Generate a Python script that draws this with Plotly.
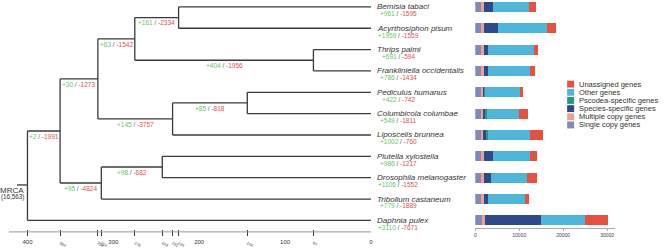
import plotly.graph_objects as go

# ---------------- data ----------------
species = ["Bemisia tabaci", "Acyrthosiphon pisum", "Thrips palmi", "Frankliniella occidentalis",
           "Pediculus humanus", "Columbicola columbae", "Liposcelis brunnea", "Plutella xylostella",
           "Drosophila melanogaster", "Tribolium castaneum", "Daphnia pulex"]
tip_gain = [961, 1959, 691, 786, 422, 549, 1002, 986, 1106, 779, 3110]
tip_loss = [-1595, -1559, -594, -1434, -742, -1811, -760, -1217, -1552, -1889, -7671]

node_names = ["root", "A", "B", "C", "D", "E", "F", "G", "H", "I"]
node_ages = [400, 362, 318, 314, 275, 231, 224, 67, 144, 243]
node_gain = [None, 2, 30, 95, 63, 145, 161, 404, 85, 98]
node_loss = [None, -1991, -1273, -4824, -1542, -3757, -2334, -1956, -818, -682]
node_children = {
    "root": ["A", "Daphnia pulex"],
    "A": ["B", "C"],
    "B": ["D", "E"],
    "C": ["I", "Tribolium castaneum"],
    "D": ["F", "G"],
    "E": ["H", "Liposcelis brunnea"],
    "F": ["Bemisia tabaci", "Acyrthosiphon pisum"],
    "G": ["Thrips palmi", "Frankliniella occidentalis"],
    "H": ["Pediculus humanus", "Columbicola columbae"],
    "I": ["Plutella xylostella", "Drosophila melanogaster"],
}
root_label = "MRCA"
root_count = "(16,563)"

major_ticks = [400, 300, 200, 100, 0]

series_names = ["Single copy genes", "Multiple copy genes", "Species-specific genes",
                "Pscodea-specific genes", "Other genes", "Unassigned genes"]
single_copy = [1590, 1590, 1590, 1590, 1590, 1590, 1590, 1590, 1590, 1590, 1590]
multiple_copy = [455, 455, 455, 455, 455, 455, 455, 455, 455, 455, 680]
species_specific = [2100, 3100, 1000, 1000, 100, 300, 350, 1970, 1600, 985, 12650]
psocodea_specific = [0, 0, 0, 0, 200, 450, 600, 0, 0, 0, 0]
other_genes = [8100, 11290, 10380, 9470, 7800, 7120, 9620, 8485, 8100, 8330, 10080]
unassigned = [1590, 1890, 910, 1060, 680, 2130, 2880, 1515, 2270, 990, 5300]
bar_ticks = [0, 10000, 20000, 30000]

# ---------------- style ----------------
W, H = 665, 248
FONT = "Liberation Sans, Arial, sans-serif"
GREEN = "#62c862"
RED = "#dc5050"
SEP = "#666666"
LINE = "#3a3a3a"
colors = ["#8289b6", "#f2a08e", "#2f4a8a", "#1f9b87", "#4db6da", "#e6503c"]

TIP0, TIPSTEP = 7.0, 21.7          # pixel y of first tip, spacing
PX400, PXPER = 26.5, 0.86          # pixel x of age 400, px per Myr
BAR0, BARPER = 475.0, 0.0044       # pixel x of 0 genes, px per gene


def pix2idx(py):
    return (py - TIP0) / TIPSTEP


def px2age(px):
    return 400 - (px - PX400) / PXPER


# ---------------- tree layout ----------------
age_of = dict(zip(node_names, node_ages))
for s in species:
    age_of[s] = 0
ypos = {s: i for i, s in enumerate(species)}


def place(n):
    if n in ypos:
        return ypos[n]
    ys = [place(c) for c in node_children[n]]
    ypos[n] = sum(ys) / len(ys)
    return ypos[n]


place("root")
parent_of = {c: p for p, cs in node_children.items() for c in cs}

lx, ly = [], []
for p, cs in node_children.items():
    a = age_of[p]
    cy = [ypos[c] for c in cs]
    lx += [a, a, None]
    ly += [min(cy), max(cy), None]
    for c in cs:
        lx += [a, age_of[c], None]
        ly += [ypos[c], ypos[c], None]
# root stem
stem_y = pix2idx(188)
lx += [age_of["root"], px2age(16), None]
ly += [stem_y, stem_y, None]

fig = go.Figure()
fig.add_trace(go.Scatter(x=lx, y=ly, mode="lines", line=dict(color=LINE, width=1.3),
                         hoverinfo="skip", xaxis="x", yaxis="y"))

# invisible helper trace to host the node-age tick axis
fig.add_trace(go.Scatter(x=node_ages, y=[ypos[n] for n in node_names], mode="markers",
                         marker=dict(opacity=0), hoverinfo="skip", xaxis="x3", yaxis="y"))

# bars
series_vals = [single_copy, multiple_copy, species_specific, psocodea_specific, other_genes, unassigned]
for name, vals, col in zip(series_names, series_vals, colors):
    fig.add_trace(go.Bar(y=list(range(len(species))), x=vals, orientation="h", name=name,
                         marker=dict(color=col, line=dict(width=0)), width=0.46,
                         xaxis="x2", yaxis="y", hoverinfo="x+name"))


def gl(g, l):
    return (f'<span style="color:{GREEN}">+{g}</span><span style="color:{SEP}"> / </span>'
            f'<span style="color:{RED}">{l}</span>')


ann = []
# tip labels
for i, s in enumerate(species):
    ann.append(dict(x=0, y=i, xref="x", yref="y", text=f"<i>{s}</i>", showarrow=False,
                    xanchor="left", yanchor="middle", xshift=4,
                    font=dict(family=FONT, size=8, color="#333333")))
    ann.append(dict(x=0, y=i + 7 / TIPSTEP, xref="x", yref="y", text=gl(tip_gain[i], tip_loss[i]),
                    showarrow=False, xanchor="center", yanchor="middle", xshift=27.5,
                    font=dict(family=FONT, size=6.5)))
# internal branch labels
for n, g, l in zip(node_names, node_gain, node_loss):
    if g is None:
        continue
    pa = age_of[parent_of[n]]
    ann.append(dict(x=(pa + age_of[n]) / 2, y=ypos[n] + 5.5 / TIPSTEP, xref="x", yref="y",
                    text=gl(g, l), showarrow=False, xanchor="center", yanchor="middle",
                    font=dict(family=FONT, size=6.5)))
# root label
ann.append(dict(x=age_of["root"], y=pix2idx(194), xref="x", yref="y", text=root_label,
                showarrow=False, xanchor="right", yanchor="middle", xshift=-1,
                font=dict(family=FONT, size=8, color="#333333")))
ann.append(dict(x=age_of["root"], y=pix2idx(200.5), xref="x", yref="y", text=root_count,
                showarrow=False, xanchor="right", yanchor="middle", xshift=-1,
                font=dict(family=FONT, size=6.3, color="#333333")))

# custom compact legend (top entry = last series)
shapes = []
leg_x0, leg_y0, leg_step = 567, 85.5, 8.3
for k, (name, col) in enumerate(zip(reversed(series_names), reversed(colors))):
    yc = leg_y0 + k * leg_step
    shapes.append(dict(type="rect", xref="paper", yref="paper",
                       x0=leg_x0 / W, x1=(leg_x0 + 7) / W,
                       y0=1 - (yc + 3.5) / H, y1=1 - (yc - 3.5) / H,
                       fillcolor=col, line=dict(width=0)))
    ann.append(dict(x=(leg_x0 + 10) / W, y=1 - yc / H, xref="paper", yref="paper", text=name,
                    showarrow=False, xanchor="left", yanchor="middle",
                    font=dict(family=FONT, size=7.5, color="#333333")))

# time-axis baseline
shapes.append(dict(type="line", xref="x", yref="paper", x0=px2age(8), x1=0,
                   y0=1 - 235.7 / H, y1=1 - 235.7 / H, line=dict(color="#9a9a9a", width=1)))

xr = [px2age(0), px2age(W)]
tick_ages = [a for a in node_ages]
tick_text = ["" if a == 400 else str(a) for a in tick_ages]

fig.update_layout(
    width=W, height=H, margin=dict(l=0, r=0, t=0, b=0),
    paper_bgcolor="white", plot_bgcolor="white", showlegend=False,
    barmode="stack", bargap=0,
    font=dict(family=FONT),
    xaxis=dict(domain=[0, 1], range=xr, anchor="free", position=1 - 236 / H,
               showgrid=False, zeroline=False, showline=False, ticks="",
               tickvals=major_ticks, ticktext=[str(t) for t in major_ticks],
               tickfont=dict(family=FONT, size=6, color="#333333"), ticklabelstandoff=5),
    xaxis3=dict(overlaying="x", range=xr, anchor="free", position=1 - 232.7 / H,
                showgrid=False, zeroline=False, showline=False, ticks="outside",
                ticklen=6.3, tickwidth=1, tickcolor="#333333",
                tickvals=tick_ages, ticktext=tick_text,
                tickfont=dict(family=FONT, size=4, color="#333333"), ticklabelstandoff=3),
    xaxis2=dict(domain=[BAR0 / W, 615 / W], range=[0, (615 - BAR0) / BARPER],
                anchor="free", position=1 - 232 / H, showgrid=False, zeroline=False,
                showline=True, linecolor="#aaaaaa", linewidth=0.8,
                ticks="outside", ticklen=2, tickcolor="#aaaaaa",
                tickvals=bar_ticks, ticktext=[str(t) for t in bar_ticks],
                tickfont=dict(family=FONT, size=5, color="#444444")),
    yaxis=dict(domain=[0, 1], range=[pix2idx(H), pix2idx(0)], visible=False,
               showgrid=False, zeroline=False),
    annotations=ann, shapes=shapes,
)

fig.write_html("out.html", config={"displayModeBar": False},
               post_script="document.body.style.margin='0';document.body.style.padding='0';")
